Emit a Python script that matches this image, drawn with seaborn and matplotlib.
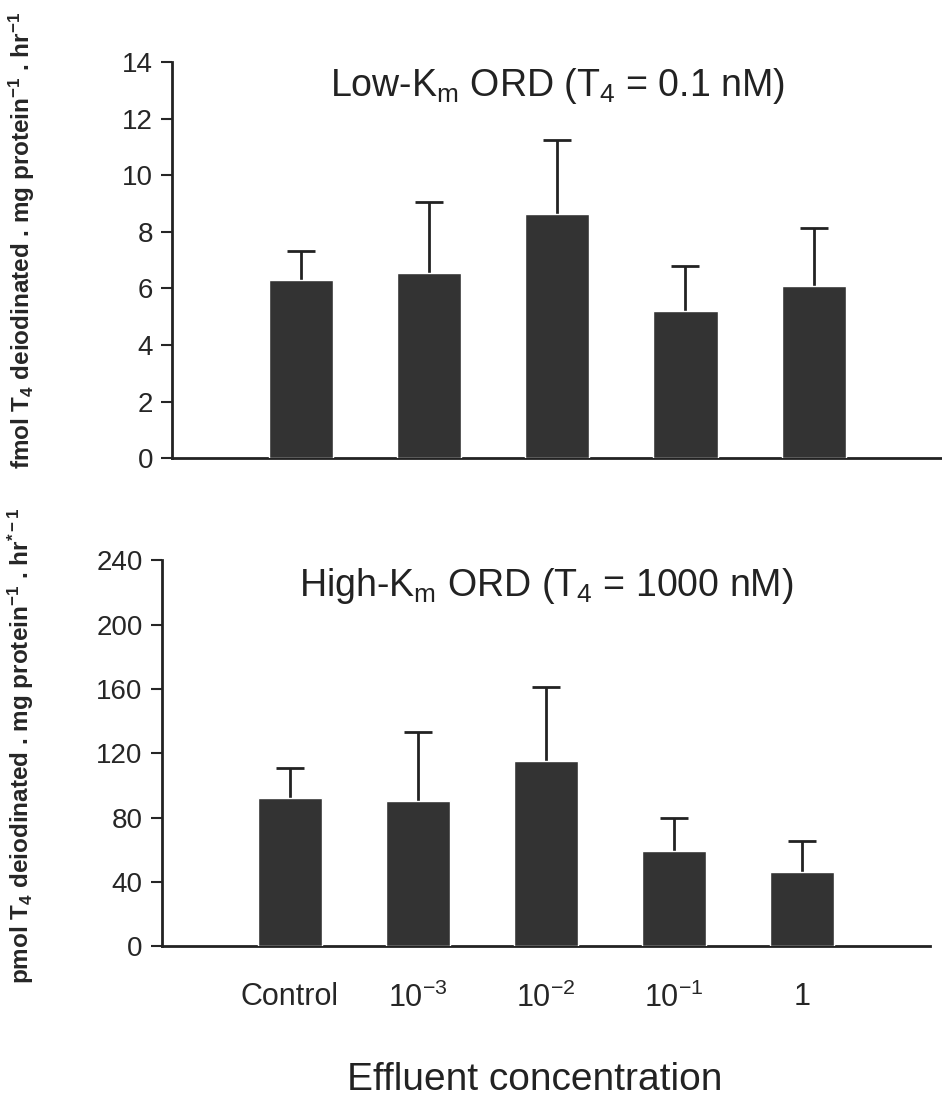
import numpy as np
import pandas as pd
import matplotlib
matplotlib.use('Agg')
import matplotlib.pyplot as plt
import seaborn as sns

# effluent concentrations (x categories)
conc = ['Control', '10^-3', '10^-2', '10^-1', '1']
conc_labels = ['Control', '$10^{-3}$', '$10^{-2}$', '$10^{-1}$', '1']

# low-Km ORD, fmol T4 / mg protein / hr
low_mean = [6.3, 6.55, 8.65, 5.22, 6.1]
low_err = [1.03, 2.52, 2.6, 1.57, 2.03]

# high-Km ORD, pmol T4 / mg protein / hr
high_mean = [92.5, 90.5, 115, 59.5, 46]
high_err = [18.5, 42.5, 46, 20, 19.5]

sns.set_style('ticks')
plt.rcParams['font.family'] = ['Liberation Sans', 'DejaVu Sans']
plt.rcParams['mathtext.fontset'] = 'custom'
plt.rcParams['mathtext.rm'] = 'Liberation Sans'
plt.rcParams['mathtext.it'] = 'Liberation Sans'
plt.rcParams['mathtext.bf'] = 'Liberation Sans:bold'

fig = plt.figure(figsize=(9.42, 11.12), dpi=100)
ax1 = fig.add_axes([0.183, 0.588, 0.817, 0.356])
ax2 = fig.add_axes([0.172, 0.149, 0.815, 0.347])

df_low = pd.DataFrame({'conc': conc, 'val': low_mean})
df_high = pd.DataFrame({'conc': conc, 'val': high_mean})

bar_col = '#333333'
for ax, d, err, top, step in [(ax1, df_low, low_err, 14, 2), (ax2, df_high, high_err, 240, 40)]:
    sns.barplot(x='conc', y='val', data=d, order=conc, color=bar_col, width=0.5,
                saturation=1, errorbar=None, ax=ax, zorder=3)
    xs = np.arange(len(conc))
    tops = np.array(d['val']) + np.array(err)
    # upper error only: stem + cap
    ax.vlines(xs, d['val'], tops, color='#222222', lw=2, zorder=2)
    ax.plot(xs, tops, ls='none', marker='_', markersize=20, mew=2, color='#222222', zorder=2)
    ax.set_xlim(-1, 5)
    ax.set_ylim(0, top)
    ax.set_yticks(np.arange(0, top + 1, step))
    ax.tick_params(axis='y', labelsize=20, length=8, width=1.5, direction='out', pad=6)
    ax.set_xlabel('')
    for s in ['top', 'right']:
        ax.spines[s].set_visible(False)
    ax.spines['left'].set_linewidth(2)
    ax.spines['bottom'].set_linewidth(2)
    ax.spines['left'].set_color('#222222')
    ax.spines['bottom'].set_color('#222222')

ax1.set_xticks([])
ax1.text(0.5, 0.99, 'Low-K$_{\\mathrm{m}}$ ORD (T$_4$ = 0.1 nM)', transform=ax1.transAxes,
         ha='center', va='top', fontsize=27, color='#222222')
ax1.set_ylabel('fmol T$_\\mathbf{4}$ deiodinated . mg protein$^\\mathbf{-1}$ . hr$^\\mathbf{-1}$',
               fontsize=17.5, fontweight='bold')
ax1.yaxis.set_label_coords(-0.176, 0.55)

ax2.set_xticks(np.arange(len(conc)))
ax2.set_xticklabels(conc_labels, fontsize=22)
ax2.tick_params(axis='x', length=0, pad=26)
ax2.text(0.5, 0.985, 'High-K$_{\\mathrm{m}}$ ORD (T$_4$ = 1000 nM)', transform=ax2.transAxes,
         ha='center', va='top', fontsize=27, color='#222222')
ax2.set_ylabel('pmol T$_\\mathbf{4}$ deiodinated . mg protein$^\\mathbf{-1}$ . hr$^\\mathbf{*-1}$',
               fontsize=17.5, fontweight='bold')
ax2.yaxis.set_label_coords(-0.164, 0.52)
fig.text(0.568, 1 - 1080 / 1112, 'Effluent concentration', ha='center', va='center',
         fontsize=28, color='#222222')

fig.savefig('out.png', dpi=100)
